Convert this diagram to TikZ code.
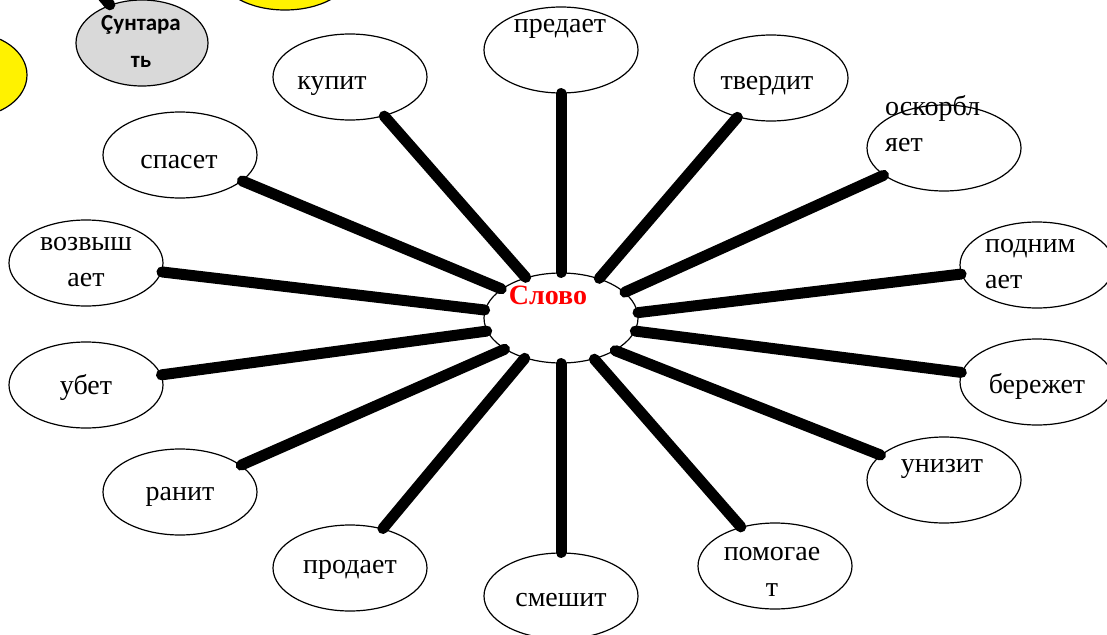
\documentclass[tikz,border=0pt]{standalone}
\usepackage{fontspec}
\setmainfont{Liberation Serif}
\newfontfamily\calfont{Carlito}
\usetikzlibrary{shapes.geometric}

\begin{document}
\begin{tikzpicture}[x=1pt,y=-1pt,
  oval/.style={ellipse,draw,line width=1.2pt,fill=white,inner sep=0pt,
    minimum width=154pt,minimum height=86pt},
  word/.style={font=\fontsize{28}{36}\selectfont,inner sep=0pt,anchor=base},
  spoke/.style={line width=11pt,line cap=round}]
\path[use as bounding box,clip] (0,0) rectangle (1107,634);

% Cut-off shapes in the top left corner
\node[oval,fill=yellow,minimum width=128pt,minimum height=70pt] (sunA) at (285,-25) {};
\node[oval,fill=yellow,minimum width=114pt,minimum height=84pt] (sunB) at (-30,75) {};
\node[oval,fill=black!15,minimum width=132pt,minimum height=86pt] (suntarat) at (142,43) {};
\coordinate (cut) at (78,-33);
\draw[spoke] (suntarat) -- (cut);
\node[font=\calfont\bfseries\fontsize{23}{37}\selectfont,align=center,inner sep=0pt,anchor=base] (suntarat-t) at (141,67) {Çунтара\\ть};

% Hub
\node[oval,minimum height=90pt] (slovo) at (561,318) {};

% Outer ellipses
\node[oval] (predaet) at (561,50) {};
\node[oval] (tverdit) at (771,78) {};
\node[oval] (oskorb) at (944,148) {};
\node[oval] (podnim) at (1037,265) {};
\node[oval] (berezhet) at (1037,382) {};
\node[oval] (unizit) at (944,480) {};
\node[oval] (pomogaet) at (775,566) {};
\node[oval] (smeshit) at (561,596) {};
\node[oval] (prodaet) at (350,568) {};
\node[oval] (ranit) at (180,492) {};
\node[oval] (ubet) at (86,385) {};
\node[oval] (vozvysh) at (86,263) {};
\node[oval] (spaset) at (180,155) {};
\node[oval] (kupit) at (350,77) {};

% Spokes from the hub
\draw[spoke] (slovo.90) -- (predaet);
\draw[spoke] (slovo.46) -- (tverdit);
\draw[spoke] (slovo.22) -- (oskorb);
\draw[spoke] (slovo.4) -- (podnim);
\draw[spoke] (slovo.-10) -- (berezhet);
\draw[spoke] (slovo.-31) -- (unizit);
\draw[spoke] (slovo.-51) -- (pomogaet);
\draw[spoke] (slovo.-90) -- (smeshit);
\draw[spoke] (slovo.-132) -- (prodaet);
\draw[spoke] (slovo.209) -- (ranit);
\draw[spoke] (slovo.190) -- (ubet);
\draw[spoke] (slovo.174) -- (vozvysh);
\draw[spoke] (slovo.154) -- (spaset);
\draw[spoke] (slovo.131) -- (kupit);

% Words
\node[word,font=\bfseries\fontsize{28}{36}\selectfont,text=red] (slovo-t) at (548,304) {Слово};
\node[word] (predaet-t) at (560,33) {предает};
\node[word] (tverdit-t) at (767,89) {твердит};
\node[word,anchor=base west,align=left] (oskorb-t) at (885,151) {оскорбл\\яет};
\node[word,anchor=base west,align=left] (podnim-t) at (985,288) {подним\\ает};
\node[word] (berezhet-t) at (1037,393) {бережет};
\node[word] (unizit-t) at (942,472) {унизит};
\node[word,align=center] (pomogaet-t) at (772,596) {помогае\\т};
\node[word] (smeshit-t) at (561,606) {смешит};
\node[word] (prodaet-t) at (350,573) {продает};
\node[word] (ranit-t) at (180,500) {ранит};
\node[word] (ubet-t) at (86,394) {убет};
\node[word,align=center] (vozvysh-t) at (86,286) {возвыш\\ает};
\node[word] (spaset-t) at (179,168) {спасет};
\node[word] (kupit-t) at (332,89) {купит};
\end{tikzpicture}
\end{document}
